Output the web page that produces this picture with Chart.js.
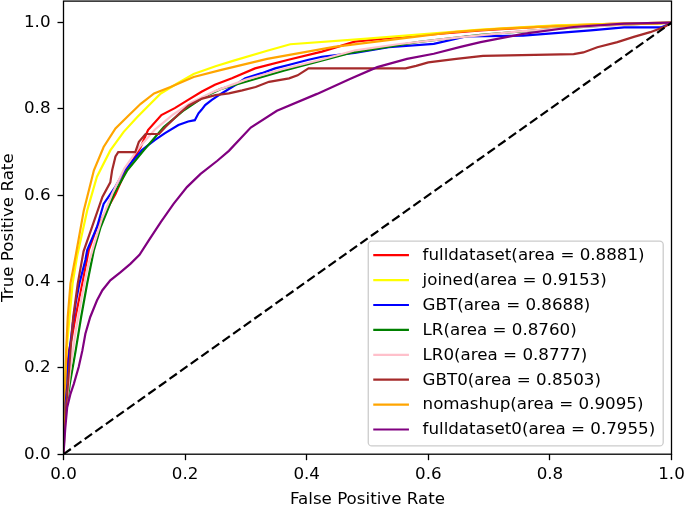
<!DOCTYPE html>
<html><head><meta charset="utf-8">
<script src="https://cdn.jsdelivr.net/npm/chart.js@4/dist/chart.umd.min.js"></script>
<style>html,body{margin:0;padding:0;background:#fff;overflow:hidden}canvas{display:block}</style>
</head><body>
<canvas id="c" width="685" height="528"></canvas>
<script>
const xTicks = [0, 0.2, 0.4, 0.6, 0.8, 1.0];
const yTicks = [0, 0.2, 0.4, 0.6, 0.8, 1.0];
const seriesNames = ['fulldataset(area = 0.8881)','joined(area = 0.9153)','GBT(area = 0.8688)','LR(area = 0.8760)','LR0(area = 0.8777)','GBT0(area = 0.8503)','nomashup(area = 0.9095)','fulldataset0(area = 0.7955)'];
const seriesColors = ['#ff0000','#ffff00','#0000ff','#008000','#ffc0cb','#a52a2a','#ffa500','#800080'];

const fulldatasetFpr = [0,0,0.003,0.009,0.014,0.0197,0.031,0.0416,0.055,0.0855,0.101,0.127,0.139,0.161,0.183,0.205,0.227,0.249,0.277,0.315,0.37,0.425,0.479,0.554,0.6,0.686,0.8,0.9,1];
const fulldatasetTpr = [0,0.08,0.165,0.24,0.272,0.318,0.396,0.473,0.526,0.603,0.652,0.712,0.751,0.786,0.802,0.821,0.840,0.856,0.871,0.894,0.914,0.933,0.956,0.967,0.972,0.982,0.992,0.997,1];

const joinedFpr = [0,0,0.005,0.01,0.015,0.0225,0.039,0.055,0.077,0.099,0.121,0.143,0.16,0.187,0.214,0.25,0.28,0.335,0.373,0.4995,0.609,0.686,0.75,0.811,0.9,1];
const joinedTpr = [0,0.1,0.24,0.318,0.396,0.46,0.565,0.643,0.704,0.747,0.781,0.812,0.836,0.859,0.881,0.899,0.912,0.935,0.950,0.963,0.975,0.984,0.989,0.994,0.997,1];

const gbtFpr = [0,0,0.005,0.01,0.015,0.02,0.026,0.036,0.039,0.055,0.066,0.0855,0.101,0.129,0.150,0.167,0.189,0.205,0.216,0.222,0.227,0.233,0.244,0.260,0.282,0.299,0.326,0.348,0.370,0.403,0.425,0.479,0.535,0.609,0.662,0.756,0.867,0.922,0.983,1];
const gbtTpr = [0,0.07,0.16,0.24,0.3,0.35,0.395,0.45,0.473,0.526,0.58,0.62,0.659,0.705,0.728,0.744,0.763,0.771,0.774,0.790,0.798,0.809,0.821,0.836,0.855,0.871,0.883,0.894,0.902,0.914,0.921,0.930,0.943,0.951,0.968,0.970,0.982,0.989,0.989,1];

const lrFpr = [0,0.0025,0.0104,0.02,0.029,0.039,0.05,0.061,0.083,0.105,0.132,0.165,0.198,0.231,0.258,0.28,0.362,0.472,0.582,0.686,0.811,0.9,1];
const lrTpr = [0,0.085,0.163,0.24,0.318,0.396,0.473,0.526,0.603,0.658,0.704,0.758,0.797,0.828,0.846,0.855,0.889,0.93,0.955,0.972,0.986,0.994,1];

const lr0Fpr = [0,0.002,0.006,0.012,0.02,0.03,0.04,0.05,0.063,0.08,0.1,0.125,0.15,0.18,0.21,0.25,0.3,0.36,0.42,0.48,0.55,0.65,0.75,0.85,0.95,1];
const lr0Tpr = [0,0.05,0.13,0.205,0.285,0.365,0.435,0.485,0.545,0.603,0.662,0.712,0.752,0.787,0.815,0.842,0.868,0.892,0.913,0.936,0.95,0.966,0.98,0.99,0.997,1];

const gbt0Fpr = [0,0,0.003,0.0115,0.016,0.0235,0.033,0.047,0.064,0.077,0.08,0.0855,0.09,0.118,0.124,0.135,0.157,0.168,0.19,0.206,0.228,0.25,0.272,0.294,0.316,0.338,0.371,0.385,0.403,0.5625,0.58,0.60,0.646,0.69,0.839,0.855,0.878,0.911,0.938,0.965,0.988,1];
const gbt0Tpr = [0,0.05,0.085,0.24,0.318,0.396,0.47,0.527,0.596,0.63,0.658,0.69,0.70,0.70,0.724,0.742,0.742,0.759,0.789,0.808,0.824,0.832,0.836,0.843,0.851,0.863,0.871,0.878,0.894,0.894,0.9,0.908,0.916,0.923,0.927,0.931,0.943,0.955,0.967,0.978,0.99,1];

const nomashupFpr = [0,0,0.003,0.0044,0.007,0.0115,0.02,0.0334,0.05,0.066,0.0855,0.105,0.127,0.149,0.176,0.214,0.258,0.335,0.445,0.554,0.646,0.72,0.811,0.9,0.977,1];
const nomashupTpr = [0,0.12,0.165,0.24,0.318,0.396,0.46,0.565,0.658,0.712,0.755,0.782,0.812,0.836,0.851,0.874,0.89,0.916,0.944,0.963,0.979,0.986,0.992,0.996,0.998,1];

const fulldataset0Fpr = [0,0.003,0.006,0.0115,0.017,0.025,0.031,0.036,0.044,0.055,0.064,0.077,0.094,0.11,0.125,0.14,0.16,0.181,0.203,0.225,0.253,0.272,0.308,0.351,0.417,0.472,0.516,0.565,0.609,0.653,0.686,0.756,0.839,0.922,1];
const fulldataset0Tpr = [0,0.062,0.108,0.14,0.163,0.202,0.24,0.279,0.318,0.356,0.38,0.403,0.422,0.441,0.462,0.495,0.538,0.58,0.619,0.649,0.68,0.703,0.757,0.796,0.835,0.870,0.897,0.916,0.928,0.944,0.955,0.974,0.99,0.998,1];

const diagFpr = [0, 1];
const diagTpr = [0, 1];

const seriesFpr = [fulldatasetFpr, joinedFpr, gbtFpr, lrFpr, lr0Fpr, gbt0Fpr, nomashupFpr, fulldataset0Fpr];
const seriesTpr = [fulldatasetTpr, joinedTpr, gbtTpr, lrTpr, lr0Tpr, gbt0Tpr, nomashupTpr, fulldataset0Tpr];

const FONT = 'DejaVu Sans';
const FS = 16.7;
const zip = (xs, ys) => xs.map((x, i) => ({x: x, y: ys[i]}));

const datasets = seriesNames.map((name, i) => ({
  label: name,
  data: zip(seriesFpr[i], seriesTpr[i]),
  borderColor: seriesColors[i],
  backgroundColor: seriesColors[i],
  borderWidth: 2.2,
  pointRadius: 0,
  fill: false,
  tension: 0,
  order: 20 - i
}));
datasets.push({
  label: '_diag',
  data: zip(diagFpr, diagTpr),
  borderColor: '#000',
  borderWidth: 2.2,
  borderDash: [9, 4],
  pointRadius: 0,
  fill: false,
  order: 0
});

const framePlugin = {
  id: 'frameLegend',
  afterDraw(chart) {
    const ctx = chart.ctx, a = chart.chartArea;
    ctx.save();
    ctx.strokeStyle = '#000';
    ctx.lineWidth = 1.3;
    ctx.strokeRect(a.left, a.top, a.right - a.left, a.bottom - a.top);
    ctx.font = FS + 'px "' + FONT + '"';
    const items = chart.data.datasets.filter(d => !d.label.startsWith('_'));
    let maxW = 0;
    items.forEach(d => { maxW = Math.max(maxW, ctx.measureText(d.label).width); });
    const rowH = 24.9, padTop = 14, padBottom = 16.4;
    const boxRight = a.right - 8.3, boxBottom = a.bottom - 8.3;
    const textX = boxRight - 8 - maxW;
    const boxLeft = textX - 54.3;
    const boxH = padTop + (items.length - 1) * rowH + padBottom;
    const boxTop = boxBottom - boxH;
    const r = 3.5;
    ctx.beginPath();
    ctx.moveTo(boxLeft + r, boxTop);
    ctx.lineTo(boxRight - r, boxTop);
    ctx.arcTo(boxRight, boxTop, boxRight, boxTop + r, r);
    ctx.lineTo(boxRight, boxBottom - r);
    ctx.arcTo(boxRight, boxBottom, boxRight - r, boxBottom, r);
    ctx.lineTo(boxLeft + r, boxBottom);
    ctx.arcTo(boxLeft, boxBottom, boxLeft, boxBottom - r, r);
    ctx.lineTo(boxLeft, boxTop + r);
    ctx.arcTo(boxLeft, boxTop, boxLeft + r, boxTop, r);
    ctx.closePath();
    ctx.fillStyle = 'rgba(255,255,255,0.8)';
    ctx.fill();
    ctx.strokeStyle = '#cccccc';
    ctx.lineWidth = 1.3;
    ctx.stroke();
    ctx.textBaseline = 'middle';
    ctx.textAlign = 'left';
    items.forEach((d, i) => {
      const cy = boxTop + padTop + i * rowH;
      ctx.strokeStyle = d.borderColor;
      ctx.lineWidth = 2.2;
      ctx.beginPath();
      ctx.moveTo(textX - 49.3, cy);
      ctx.lineTo(textX - 13.6, cy);
      ctx.stroke();
      ctx.fillStyle = '#000';
      ctx.fillText(d.label, textX, cy + 0.5);
    });
    ctx.restore();
  }
};

const tickFont = {family: FONT, size: FS};
const yTitleFont = {family: FONT, size: FS, lineHeight: 1};
new Chart(document.getElementById('c'), {
  type: 'line',
  data: {datasets: datasets},
  plugins: [framePlugin],
  options: {
    responsive: false,
    animation: false,
    layout: {padding: {left: 0, right: 13.5, top: 1.1, bottom: 0}},
    plugins: {legend: {display: false}, tooltip: {enabled: false}},
    scales: {
      x: {
        type: 'linear', min: 0, max: 1,
        afterBuildTicks: s => { s.ticks = xTicks.map(v => ({value: v})); },
        afterFit: s => { s.height = 73.8; s.paddingLeft = 0; s.paddingRight = 0; },
        ticks: {font: tickFont, color: '#000', padding: 4, maxRotation: 0, autoSkip: false, callback: v => v.toFixed(1)},
        grid: {drawOnChartArea: false, drawTicks: true, tickLength: 6, tickColor: '#000', tickWidth: 1.3},
        border: {display: false},
        title: {display: true, text: 'False Positive Rate', font: tickFont, color: '#000', padding: {top: 0, bottom: 18.7}}
      },
      y: {
        type: 'linear', min: 0, max: 1.05,
        afterBuildTicks: s => { s.ticks = yTicks.map(v => ({value: v})); },
        afterFit: s => { s.width = 63.5; s.paddingTop = 0; s.paddingBottom = 0; },
        ticks: {font: tickFont, color: '#000', padding: 7, autoSkip: false, callback: v => v.toFixed(1)},
        grid: {drawOnChartArea: false, drawTicks: true, tickLength: 6, tickColor: '#000', tickWidth: 1.3},
        border: {display: false},
        title: {display: true, text: 'True Positive Rate', font: yTitleFont, color: '#000', padding: {top: 0.8, bottom: 0}}
      }
    }
  }
});
</script>
</body></html>
